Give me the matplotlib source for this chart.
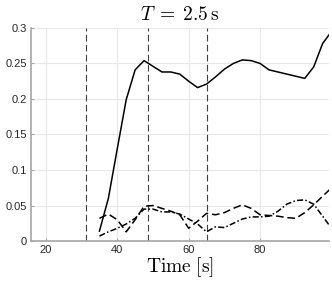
import numpy as np
import matplotlib.pyplot as plt

plt.rcParams['mathtext.fontset'] = 'cm'
plt.rcParams['font.family'] = ['Liberation Sans', 'DejaVu Sans']

# sample times (2.5 s step)
t = np.arange(35, 100.1, 2.5)

solid = [0.014, 0.06, 0.13, 0.199, 0.241, 0.254, 0.246, 0.238, 0.238, 0.235,
         0.225, 0.216, 0.221, 0.231, 0.242, 0.25, 0.255, 0.254, 0.25, 0.241,
         0.238, 0.235, 0.232, 0.229, 0.245, 0.278, 0.295]
dashed = [0.032, 0.038, 0.03, 0.013, 0.03, 0.049, 0.05, 0.046, 0.042, 0.037,
          0.018, 0.028, 0.039, 0.037, 0.04, 0.046, 0.051, 0.046, 0.037, 0.036,
          0.035, 0.033, 0.032, 0.04, 0.051, 0.063, 0.075]
dashdot = [0.007, 0.013, 0.018, 0.024, 0.032, 0.045, 0.045, 0.041, 0.041, 0.038,
           0.031, 0.024, 0.013, 0.02, 0.019, 0.025, 0.031, 0.034, 0.034, 0.035,
           0.042, 0.052, 0.057, 0.058, 0.052, 0.035, 0.018]
vlines = [31.2, 48.5, 65.0]

fig = plt.figure(figsize=(3.32, 2.88), dpi=100)
ax = fig.add_axes([0.093, 0.163, 0.898, 0.74])

for v in vlines:
    ax.axvline(v, color='#404040', lw=0.8, ls=(0, (6, 3)))
ax.plot(t, solid, color='black', lw=1.1)
ax.plot(t, dashed, color='black', lw=1.1, ls=(0, (5, 2.5)))
ax.plot(t, dashdot, color='black', lw=1.1, ls=(0, (4, 1.5, 1, 1.5)))

ax.set_xlim(15.8, 99.3)
ax.set_ylim(0, 0.3)
ax.set_xticks([20, 40, 60, 80])
ax.set_yticks([0, 0.05, 0.1, 0.15, 0.2, 0.25, 0.3])
ax.set_yticklabels(['0', '0.05', '0.1', '0.15', '0.2', '0.25', '0.3'])
ax.grid(True, color='#e8e8e8', lw=0.8)
ax.set_axisbelow(True)
for s in ['top', 'right']:
    ax.spines[s].set_visible(False)
for s in ['left', 'bottom']:
    ax.spines[s].set_color('#a6a6a6')
    ax.spines[s].set_linewidth(1.2)
ax.tick_params(direction='in', length=2.5, color='#a6a6a6', labelsize=8,
               labelcolor='#262626', pad=3)

ax.set_title(r'$T\;=\;2.5\,\mathrm{s}$', fontsize=14, pad=6)
ax.set_xlabel(r'$\mathrm{Time}\ [\mathrm{s}]$', fontsize=14, labelpad=0)

fig.savefig('out.png', dpi=100)
